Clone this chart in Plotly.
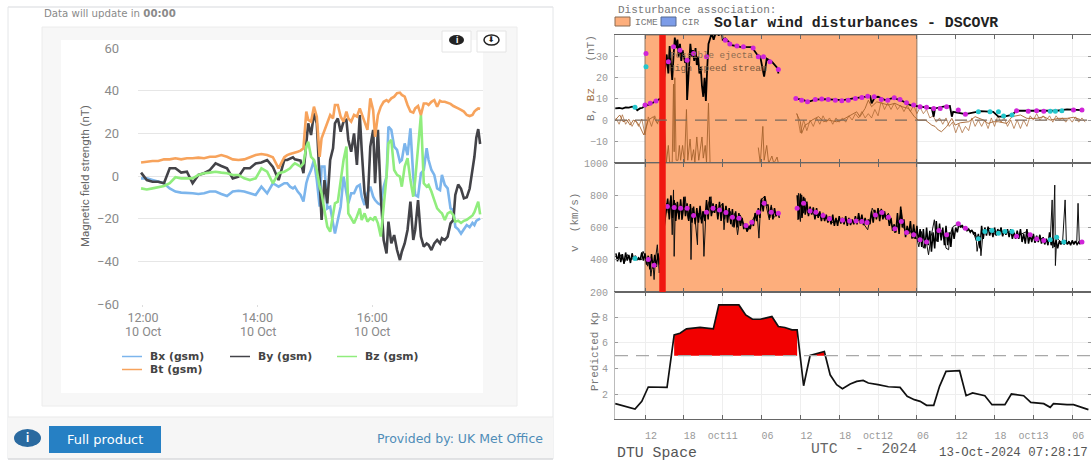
import plotly.graph_objects as go

W, H = 1091, 462

# ---------- left chart: magnetic field, minutes after 12:00 on 10 Oct ----------
minutes = [-2,4,10,16,22,28,34,40,46,52,58,64,70,76,82,88,94,100,106,112,118,124,130,136,142,148,
           151,154,157,159,162,165,168,171,173,176,179,182,185,187,190,193,
           196,199,201,204,207,210,213,215,218,221,224,227,229,232,235,238,
           241,243,246,249,252,255,257,260,263,266,269,271,274,277,280,283,
           285,288,291,294,297,299,302,305,308,311,313,316,319,322,325,327,
           330,333,336,339,342,345,347,349,351,353]
bx_gsm = [-1.1,-1.1,-1.9,-2.7,-3.4,-5.8,-7.3,-7.8,-7.8,-8.1,-8.4,-8.1,-7.3,-7.3,-8.4,-9.4,-7.3,-6.9,-7.3,-8.1,-8.9,-5,-8.1,-3.4,-5,-3.4,
          -3.4,-5,-5.8,-5,-7.3,-8.9,-12,-3.4,-0.3,2.8,7.5,-1.9,-14.4,4.4,4.4,-15.2,-14.4,-22.2,-26.9,-20.6,-14.4,-0.3,-8.1,-12.8,-8.1,-8.1,-5,-4.2,-9.7,-13.6,-8.1,-5,-9.7,-11.3,-12.8,-13.6,-5,-0.3,23.1,21.6,13.8,12.2,6.7,7.5,15.3,9.8,22.3,-0.3,-8.9,-9.7,1.3,2.8,13,7.5,2.8,0.5,-5.8,-6.6,0.5,-4.2,-5.8,-15.2,-16,-23.8,
          -25,-27,-25,-23,-24,-22,-23,-21,-20.5,-20]
by_gsm = [1.6,-1.9,-2.7,-2.7,-3.4,3.6,3.6,1.6,2,-3.4,0.5,1.3,2.8,5.9,4.7,3.6,-1.1,-0.3,3.6,3.6,5.9,6.3,7.5,4.3,-1.9,7.5,
          7.5,8.3,8.8,7.8,7.5,7.2,1.3,13.8,24.7,19.2,29.4,24.7,-6.6,-20.6,-1.9,-12.8,7.5,13,24.7,27,20.8,25.5,26.3,16.9,11.4,20,5.2,28.6,12.2,-8.1,-15.2,13.8,21.6,-3.4,21.6,-9.7,-30,-36.3,-21.4,-31.6,-27.7,-34.7,-39.4,-35.5,-31.6,-25.3,-12,-30,-25.3,-11.3,-28.4,-33.1,-31.6,-32.3,-34.7,-31.6,-30,-31.6,-29.2,-30,-28.4,-22.2,-20.6,-8.9,
          -4,-6,-10.5,-10,-6,2,9,18,22,15]
bz_gsm = [-5.8,-6.3,-5.8,-5.3,-4.7,-3.4,-0.6,-1.1,-1.1,-1.1,0.5,1.3,1.6,2,1.6,1.3,0.5,0.5,-1.1,-1.9,-1.1,3.6,2,-3.4,1.3,2,
          2.8,3.6,5.2,5.9,5.2,4.4,5.9,13.8,16.1,9,7.5,2.8,-5,-8.1,-16,-23.8,-26.1,-19,-12.8,-12,-1.9,7.5,13.8,-17.5,-19.8,-22.2,-19,-15.2,-20.6,-17.5,-21.4,-19.8,-20.6,-19,-22.2,-28.4,-14.4,-0.3,15.3,16.9,2.8,0.5,-0.3,-5,4.4,8.3,-1.9,-9.7,-1.9,13.8,28.6,-3.4,-5,-4.2,-7.3,-11.3,-15.2,-16.7,-17.5,-20.6,-17.5,-16.7,-18.3,-21.4,
          -21,-22,-21,-20.5,-19.5,-18.5,-17,-14,-12,-18]
bt_gsm = [6.3,6.7,7,7,7.8,7.8,8.3,7.8,8.3,8.3,8.6,8.3,9,9,9.8,9,7.8,7.5,7.8,8.8,9.8,10.3,9.8,8.8,3.6,8.8,
          9.8,10.3,10.6,10.9,11.4,11.9,13,30.2,26.3,25.5,32.5,27.8,9,17.7,21.6,24.7,28.6,27,33.3,33.3,27.8,25.5,30.2,27,25.5,28.6,27.8,31.7,29.4,25.5,21.6,36.4,30.9,18.4,28.6,32.5,34.8,35.6,34.8,36.4,37.2,38.8,39.1,38,37.2,33.3,30.2,29.7,31.7,32.8,28.6,34,34,33.3,34.8,35.6,32.5,35.3,34.8,34.8,34.4,33.8,32.8,32.5,
          31.7,31,30.2,28.6,28.1,28.6,30.2,31,31.7,31.5]
mag_names = ["Bx (gsm)", "By (gsm)", "Bz (gsm)", "Bt (gsm)"]
mag_colors = ["#7cb5ec", "#434348", "#90ed7d", "#f7a35c"]
mag_ticks = [60, 40, 20, 0, -20, -40, -60]
time_ticks = [0, 120, 240]
time_labels = ["12:00", "14:00", "16:00"]
date_labels = ["10 Oct", "10 Oct", "10 Oct"]

# ---------- right chart: hours after 00:00 on 10 Oct ----------
b_hours = [7.4,8,8.5,9,9.5,10,10.5,10.8,11.2,11.6,12,12.5,13,13.4,13.8,14.2,14.6,
           15.35,15.6,15.8,16,16.2,16.4,16.6,16.8,17,17.2,17.4,17.6,17.8,18,18.2,18.4,18.5,18.7,18.9,19,19.2,19.4,19.6,19.8,20,20.2,20.4,20.6,20.8,21,21.2,21.4,21.6,21.8,22,22.3,22.6,23,23.4,23.8,24,24.4,25.4,26.7,28.5,29.3,29.8,30.4,30.8,31.6,32.5,32.6,
           33.5,
           35.2,36.5,37.2,38.3,39.6,41.1,42.6,44.2,45.7,46.8,47,47.5,48,49.1,50.4,51.7,53,54,55,56.3,56.6,56.8,58.1,59.1,59.4,59.6,61.5,63.8,65.8,66.6,67.4,68.7,69.4,71.5,73.6,75.6,77.2,79.5]
b_total = [5.5,5.7,5.4,6,5.9,6.3,5.8,4.6,5.5,5.8,7,7.2,7.8,8.5,9,10,10.5,
           31,22,35,26,19,30,39,34,38,30,36,28,33,30,27,29,9.5,20,30,36,30,33,28,34,26,30,22,25,16,11,20,9,24,36,38,41,38,42,40,43,38,38.6,35.4,34.6,34.5,31,30,20.5,29,27.6,24.4,22,
           None,
           10.2,9.4,8.6,9.7,9.9,9.7,9.4,10.2,11,11.3,7.9,10.7,11,9.4,10.5,9.1,7,6.6,6,5.5,1.6,5.5,6.3,6.6,1.6,3.9,2.8,4.2,3.9,1.6,1.6,2.4,4.4,4.4,4.2,4.4,5,4.7]
bz_hours = [7.4,8.1,8.6,9.2,9.7,10.2,10.7,11.2,11.8,12.5,13.3,13.9,14.5,15,
            15.3,15.6,15.8,16.2,16.4,16.5,16.6,16.8,17.1,17.3,17.5,17.8,18.1,18.4,18.6,18.96,19.2,19.5,19.7,20,20.3,20.8,21,21.3,21.5,21.8,22.05,
            23,
            29.5,29.8,30.2,30.4,30.8,31.1,31.6,31.9,32.4,32.6,
            33.5,
            35.4,36,36.2,36.7,37.2,37.8,38.8,39.6,40.3,41.6,42.6,43.7,44.7,45.2,46,46.5,47,47.8,48.6,49.6,50.6,51.7,52.7,53.6,54.2,55.3,56.3,56.8,57.3,57.8,58.6,59.4,59.9,60.7,62,63,64.3,65,65.8,66.6,67.9,68.7,70,71,72.5,73.6,74.6,75.9,77.2,78.2,79.2]
bz_total = [0,2.4,-0.8,0,-2.4,0,-0.8,-3.1,-7,0,1.6,-1.6,2,-3,
            -20,-12,-20,-20,17,-15,20,-19,-19,-12,-19,-12,-20,5,-19,-9,-19,-14,-20,-8,-19,-8,-18,-12,-20,8,-20.5,
            None,
            -13,-20.5,-3,-19,-12,-20.5,-17,-20.5,-17.5,-20.5,
            None,
            3.1,-0.8,-6.3,-2.4,-1.6,0,1.6,-0.8,0,-0.8,0.3,2.4,3.9,1.6,5.5,9.4,6.3,8.6,7.9,7.1,7.9,6.3,5.5,1.6,0,0,-2.4,-3,-4.7,-5.5,-3.1,0.8,-2.4,-1.3,-0.8,1.6,0,-1.6,-0.8,-0.8,-1.6,1.6,2.4,0.8,0.8,1.6,0,0.8,0.8,1.3,0.3]
# upper and lower edge of the fuzzy Bz trace, read every hour
bz_band_hours = [7.5,8.5,9.5,10.5,11.5,12.5,13.5,
                 14.5,
                 35.5,36.5,37.5,38.5,39.5,40.5,41.5,42.5,43.5,44.5,45.5,46.5,47.5,48.5,49.5,50.5,51.5,52.5,53.5,54.5,55.5,56.5,57.5,58.5,59.5,60.5,61.5,62.5,63.5,64.5,65.5,66.5,67.5,68.5,69.5,70.5,71.5,72.5,73.5,74.5,75.5,76.5,77.5,78.5,79.5]
bz_band_upper = [1,2.5,0.5,0,0.5,1.5,2,
                 None,
                 3,0,0,1,2,1,1,1,2,3,4,3,5,9,8,8,7,7,7,6,5,2,1,1,-1,-2,-3,1,0,0,1,2,1,0,0,0,2,3,2,2,2,1,1,1.5,1]
bz_band_lower = [-2,-2,-3,-3,-7,-3,-2,
                 None,
                 -6,-5,-3,-2,-1,-2,-1,-1,0,1,1,1,2,5,5,5,4,4,3,3,1,-1,-2,-3,-6,-6,-5,-3,-3,-4,-3,-1,-3,-4,-4,-3,0,0,0,-1,0,-1,-1,-1,-1]
b_ejecta_h = [12.15,12,12.8,13.7,15.6,16.4,17.4,18.5,19.5,21.5,24.4,25.1,26.2,27.2,28.7,29.5,30.3,31.3,32.6,35.3,36.2,37.1,38.3,39.3,40.3,41.4,42.4,43.4,44.5,45.5,46.4,47.4,48.5,49.5,50.5,51.4,52.4,53.5,54.5,55.5,56.6,57.6,58.6,60.4,61.5,69.4,71.2,72.5,73.6,78.2,79.5]
b_ejecta_v = [31.4,7.1,7.9,9,27.5,34.6,33,28.3,31.4,29.9,37.7,36,35,34.6,34,29.9,29.9,27.5,23.9,10.2,9.4,8.6,9.7,9.9,9.7,9.4,9.1,9.4,10.2,10.7,11.3,11,9.7,9.4,10.5,9.7,8.2,7.1,6.3,6,5.5,5.5,6.3,4.7,2.8,4.4,4.2,4.4,4.2,4.7,4.7]
b_stream_h = [12.15,10.45,63.5,65.3,66.6,67.4,68.7,74.6,75.4,76.4]
b_stream_v = [25.2,6,3.9,3.9,3.9,1.9,2.4,4.2,4.2,4.4]

v_hours = [7.4,7.9,8.3,8.8,9.3,9.8,10.3,10.9,11.5,11.7,12.1,12.4,12.7,12.9,13.2,13.4,13.6,13.9,14.2,
           15.35,15.6,16,16.2,16.4,16.5,16.7,17.1,17.5,17.7,18.2,18.4,18.7,19,19.1,19.3,19.7,20.1,20.2,20.7,20.9,21.1,21.4,21.8,22.2,22.4,22.8,23.4,24,24.2,24.5,24.9,25.2,25.5,25.9,26.3,26.7,27.2,27.8,28.5,29.3,29.6,29.9,30.4,30.8,31.2,31.5,31.8,32.6,
           34,
           35.6,35.7,36,36.2,36.5,36.7,37.1,37.8,38.3,38.9,39.6,40.3,41.1,41.4,42.1,43.2,44.2,45.2,45.7,46.4,46.8,47.1,47.6,48.1,48.6,49.1,49.6,50.1,50.6,51.2,51.6,51.9,52.4,52.9,53.5,54,54.3,54.7,55,55.4,55.8,56.2,56.7,57,57.3,57.7,58.2,58.5,58.9,59.1,59.6,60.4,61.2,61.9,62.7,63.2,63.3,63.7,63.9,64.2,64.8,65.3,66.1,66.9,67.6,68.4,69.2,69.9,71,71.5,72.3,73,73.8,74.6,74.9,75,75.3,75.4,75.6,76.1,76.5,76.9,77,77.1,77.9,78.7,78.9,79.1,79.5]
v_speed = [421,401,432,380,432,401,411,401,401,452,411,360,411,298,390,277,401,493,318,
           750,689,791,555,833,421,750,689,730,647,791,709,647,689,401,720,668,493,689,647,699,421,689,750,791,689,709,720,750,586,730,668,699,606,689,555,678,627,575,637,699,534,770,791,719,647,740,658,689,
           None,
           647,812,637,802,689,781,689,699,668,689,657,657,627,637,645,645,635,647,627,586,658,720,678,699,709,658,689,617,566,627,709,607,555,586,534,534,480,575,472,524,431,545,648,514,575,586,555,472,462,555,606,623,596,586,575,514,452,545,425,560,586,596,555,586,565,575,545,555,575,555,524,534,524,514,771,472,863,364,534,514,503,771,647,503,503,514,750,503,514]
# upper and lower edge of the dense speed trace, read every half hour
band_hours = [7.5,8,8.5,9,9.5,10,10.5,11,11.5,12,12.5,13,13.5,14,
              15.5,16,16.5,17,17.5,18,18.5,19,19.5,20,20.5,21,21.5,22,22.5,23,23.5,24,24.5,25,25.5,26,26.5,27,27.5,28,28.5,29,29.5,30,30.5,31,31.5,32,32.5,
              33.5,
              35.5,36,36.5,37,37.5,38,38.5,39,39.5,40,40.5,41,41.5,42,42.5,43,43.5,44,44.5,45,45.5,46,46.5,47,47.5,48,48.5,49,49.5,50,50.5,51,51.5,52,52.5,53,53.5,54,54.5,55,55.5,56,56.5,57,57.5,58,58.5,59,59.5,60,60.5,61,61.5,62,62.5,63,63.5,64,64.5,65,65.5,66,66.5,67,67.5,68,68.5,69,69.5,70,70.5,71,71.5,72,72.5,73,73.5,74,74.5,75,75.5,76,76.5,77,77.5,78,78.5,79]
band_upper = [440,445,435,445,430,440,425,412,445,440,425,435,430,440,
              780,800,770,760,775,790,750,745,730,720,735,700,770,790,750,745,760,750,735,720,715,700,690,660,625,610,640,690,720,780,795,740,730,720,700,
              None,
              800,810,790,760,730,725,720,700,690,680,670,680,660,670,660,670,660,650,670,690,680,660,650,700,710,720,715,700,680,660,620,690,730,650,610,640,620,610,590,590,600,580,570,640,625,600,610,570,600,600,625,615,605,590,585,570,560,610,600,605,590,600,590,600,585,590,590,570,580,590,560,590,555,560,550,555,540,530,570,535,520,515,515,520,515,520,515,510]
band_lower = [390,385,375,395,380,400,398,400,395,370,340,345,355,370,
              650,660,640,650,655,670,640,630,620,630,625,640,650,670,690,650,640,650,630,620,600,600,610,590,575,590,610,640,660,700,740,660,650,670,660,
              None,
              650,660,680,670,680,650,660,640,640,630,620,610,610,625,620,610,615,620,620,625,615,620,620,630,650,640,650,650,610,580,570,560,600,540,560,530,530,510,480,470,490,450,470,510,520,490,490,480,530,570,600,590,580,570,560,520,470,530,550,550,540,550,560,545,555,540,530,530,530,510,500,500,510,505,510,500,495,490,490,480,470,495,495,495,490,495,495,495]
v_ejecta_h = [12.5,13.4,15.45,16.5,17.5,18.5,19.5,21.5,22.5,23.5,24.5,25.5,26.5,27.6,28.5,29.5,30.4,31.5,32.6,35.5,36.5,37.5,38.4,39.5,40.5,42.5,43.6,44.6,45.5,46.3,47.6,48.6,49.6,50.6,51.6,52.4,53.5,54.5,55.5,57.4,58.6,60.4,61.5,69.4,71.5,72.5,73.6,79.5]
v_ejecta_v = [401,366,730,724,720,720,674,695,720,709,693,664,658,613,633,695,750,695,689,720,750,703,695,674,654,645,641,641,637,631,678,693,664,592,637,569,555,524,510,582,555,623,596,545,555,528,520,510]
v_stream_h = [10.45,63.5,64.5,65.6,66.6,67.6,68.7,74.6,75.6,76.7]
v_stream_v = [407,530,575,582,565,575,575,524,540,510]

kp_hours = [7.4,10.45,11.5,12.5,15.4,16.5,17.4,18.4,20.5,22.55,23.4,26.5,27.55,28.6,29.8,31.6,32.6,33.6,34.7,35.5,36.5,37.5,39.7,40.6,41.6,42.5,43.7,44.7,45.7,46.5,48,49.6,51.4,52.5,53.6,54.5,55.5,56.6,57.5,58.5,60.6,61.6,62.6,64.5,65.6,67.6,68.6,70.5,71.6,73.6,74.6,75.1,77.2,78.2,80.5]
kp_value = [1.25,0.83,1.43,2.55,2.52,6.62,6.75,7.09,7.2,7.09,8.96,8.96,8.18,7.84,7.84,8.05,7.27,7.2,7.01,7.01,2.65,5.01,5.32,3.5,2.73,2.42,2.78,2.99,3.06,2.86,2.73,2.57,2.52,1.82,1.56,1.43,1.12,1.12,2.6,3.77,3.82,1.87,2.08,1.87,1.17,1.17,2,1.87,1.35,1.25,0.96,1.25,1.17,1.17,0.78]
storm_level = 5

hour_ticks = [12,18,24,30,36,42,48,54,60,66,72,78]
hour_labels = ["\u00a0\u00a012","\u00a0\u00a018","oct11","\u00a0\u00a006","\u00a0\u00a012","\u00a0\u00a018","oct12","\u00a0\u00a006","\u00a0\u00a012","\u00a0\u00a018","oct13","\u00a0\u00a006"]
b_ticks = [-10,0,10,20,30]
b_range = [-20.3, 40.2]
v_ticks = [200,400,600,800,1000]
v_range = [200, 1000]
kp_ticks = [2,4,6,8]
kp_range = [0.05, 9.97]
icme_span = [12, 54]
shock_span = [14.2, 15.2]

for a, b in [(minutes, bx_gsm), (minutes, by_gsm), (minutes, bz_gsm), (minutes, bt_gsm), (b_hours, b_total),
             (bz_hours, bz_total), (bz_band_hours, bz_band_upper), (bz_band_hours, bz_band_lower),
             (b_ejecta_h, b_ejecta_v), (b_stream_h, b_stream_v), (v_hours, v_speed),
             (band_hours, band_upper), (band_hours, band_lower),
             (v_ejecta_h, v_ejecta_v), (v_stream_h, v_stream_v), (kp_hours, kp_value)]:
    assert len(a) == len(b), (len(a), len(b))

# ---------- helpers for page furniture ----------
SANS, WIDE, MONO = "Roboto", "DejaVu Sans", "Liberation Mono"
def px(x): return x / W
def py(y): return 1 - y / H

shapes, notes = [], []
def box(x0, y0, x1, y1, fill, line=None, kind="rect", layer="below", width=1):
    shapes.append(dict(type=kind, xref="paper", yref="paper", x0=px(x0), x1=px(x1), y0=py(y0), y1=py(y1),
                       fillcolor=fill, line=dict(color=line or "rgba(0,0,0,0)", width=width), layer=layer))
def rule(x0, y0, x1, y1, color, width=1):
    shapes.append(dict(type="line", xref="paper", yref="paper", x0=px(x0), x1=px(x1), y0=py(y0), y1=py(y1),
                       line=dict(color=color, width=width), layer="below"))
def note(text, x, y, size, color, family=SANS, anchor="left", angle=0):
    notes.append(dict(text=text, xref="paper", yref="paper", x=px(x), y=py(y), xanchor=anchor, yanchor="middle",
                      showarrow=False, textangle=angle, font=dict(size=size, color=color, family=family)))

# left card
rule(8, 7, 553, 7, "#e4e6e8", 1.5)
rule(8, 7, 8, 459, "#e4e6e8", 1)
rule(553, 7, 553, 459, "#e4e6e8", 1)
box(42, 27, 517, 406, "#f7f7f7", "#ececec")
box(61, 40, 483, 393, "#ffffff")
box(8, 417, 553, 459, "#f6f6f6")
rule(8, 417, 553, 417, "#e9e9e9", 1)
rule(8, 459, 553, 459, "#d8dadc", 1.5)
box(442, 31, 471, 52, "#ffffff", "#e4e4e4", layer="above")
box(477, 31, 506, 52, "#ffffff", "#e4e4e4", layer="above")
box(449, 35, 464, 45, "#222222", kind="circle", layer="above")
box(484, 35, 499, 45, "#ffffff", "#222222", kind="circle", layer="above", width=1.5)
box(14, 429, 41, 447, "#2a6aa0", kind="circle")
box(49, 426, 161, 453, "#2680c4")
note("<b>i</b>", 456.5, 40, 9, "#ffffff", anchor="center")
note("<b>⬇</b>", 491.5, 40, 8, "#222222", WIDE, "center")
note("<b>i</b>", 27.5, 438, 12, "#ffffff", anchor="center")
note("Full product", 105, 439, 13, "#ffffff", WIDE, "center")
note("Provided by: UK Met Office", 545, 438, 12.5, "#4f8db8", WIDE, "right")
note("Data will update in <b>00:00</b>", 42, 14, 10.2, "#8a8a8a", WIDE)
note("Magnetic field strength (nT)", 85, 176, 11.5, "#666666", anchor="center", angle=-90)
for tick, label in zip(time_ticks, date_labels):
    notes.append(dict(text=label, xref="x", yref="paper", x=tick, y=py(331), xanchor="center", yanchor="middle",
                      showarrow=False, font=dict(size=12.5, color="#8a8a8a", family=SANS)))

legend_rows = [(122, 356.5), (230, 356.5), (337, 356.5), (122, 369.5)]
for name, colour, (lx, ly) in zip(mag_names, mag_colors, legend_rows):
    rule(lx, ly, lx + 20, ly, colour, 1.5)
    note("<b>%s</b>" % name, lx + 26, ly, 10.8, "#444444", WIDE)

# right header and footer text
note("Disturbance association:", 615.5, 10, 11, "#777777", MONO)
box(615, 17, 630, 26, "#fdae7c", "#8a6a50")
note("ICME", 633, 22, 9.5, "#777777", MONO)
box(661, 17, 676, 26, "#7c9ce8", "#55688f")
note("CIR", 680, 22, 9.5, "#777777", MONO)
note("<b>Solar wind disturbances - DSCOVR</b>", 711.5, 23, 14.8, "#222222", MONO)
note('B, <span style="color:#a0703f">Bz</span>\u00a0\u00a0\u00a0\u00a0(nT)', 591, 78, 11, "#777777", MONO, "center", -90)
note("v\u00a0\u00a0(km/s)", 575, 223, 11, "#777777", MONO, "center", -90)
note("Predicted Kp", 595, 352, 11, "#777777", MONO, "center", -90)
note("DTU Space", 615, 453, 14.8, "#555555", MONO)
note("UTC\u00a0\u00a0-\u00a0\u00a02024", 809, 449, 14.7, "#666666", MONO)
note("13-Oct-2024 07:28:17", 1090, 453, 12.4, "#555555", MONO, "right")
note("Possible ejecta", 668, 55, 9.2, "#8a6a50", MONO)
note("High speed stream", 667, 68, 9.6, "#7a5a40", MONO)

# axis-anchored bands and reference lines
for xax, yax, yr in (("x2", "y2", b_range), ("x3", "y3", v_range)):
    shapes.append(dict(type="rect", xref=xax, yref=yax, x0=icme_span[0], x1=icme_span[1], y0=yr[0], y1=yr[1],
                       fillcolor="#fdae7c", line=dict(color="#8f7560", width=1), layer="between"))
    shapes.append(dict(type="rect", xref=xax, yref=yax, x0=shock_span[0], x1=shock_span[1], y0=yr[0], y1=yr[1],
                       fillcolor="#f01810", line=dict(width=0), layer="above"))
shapes.append(dict(type="line", xref="x2 domain", yref="y2", x0=0, x1=1, y0=0, y1=0, layer="above",
                   line=dict(color="#7b6a5c", width=1.2, dash="12px,8px")))
shapes.append(dict(type="line", xref="x4 domain", yref="y4", x0=0, x1=1, y0=storm_level, y1=storm_level, layer="above",
                   line=dict(color="#a8a8a8", width=1.4, dash="13px,8px")))

# ---------- figure ----------
def zigzag(hours, upper, lower, step):
    xs, ys = [], []
    for hour, hi, lo in zip(hours, upper, lower):
        xs += [hour, hour + step]
        ys += [hi, lo]
    return xs, ys

fig = go.Figure()
for name, colour, series in zip(mag_names, mag_colors, [bx_gsm, by_gsm, bz_gsm, bt_gsm]):
    fig.add_trace(go.Scatter(x=minutes, y=series, name=name, mode="lines", xaxis="x", yaxis="y",
                             line=dict(color=colour, width=2.6)))

fig.add_trace(go.Scatter(x=bz_hours, y=bz_total, name="Bz", mode="lines", xaxis="x2", yaxis="y2",
                         line=dict(color="#a5622c", width=0.9)))
bz_x, bz_y = zigzag(bz_band_hours, bz_band_upper, bz_band_lower, 0.5)
fig.add_trace(go.Scatter(x=bz_x, y=bz_y, name="Bz band", mode="lines", xaxis="x2", yaxis="y2",
                         line=dict(color="#a5622c", width=0.7)))
fig.add_trace(go.Scatter(x=b_hours, y=b_total, name="B", mode="lines", xaxis="x2", yaxis="y2",
                         line=dict(color="#000000", width=1.8)))
fig.add_trace(go.Scatter(x=v_hours, y=v_speed, name="v", mode="lines", xaxis="x3", yaxis="y3",
                         line=dict(color="#111111", width=1)))
zig_x, zig_y = zigzag(band_hours, band_upper, band_lower, 0.25)
fig.add_trace(go.Scatter(x=zig_x, y=zig_y, name="v band", mode="lines", xaxis="x3", yaxis="y3",
                         connectgaps=False, line=dict(color="#000000", width=1.5)))
for hx, hy, ax, ay in [(b_ejecta_h, b_ejecta_v, "x2", "y2"), (v_ejecta_h, v_ejecta_v, "x3", "y3")]:
    fig.add_trace(go.Scatter(x=hx, y=hy, mode="markers", xaxis=ax, yaxis=ay, name="ejecta",
                             marker=dict(color="#d024d8", size=5)))
for hx, hy, ax, ay in [(b_stream_h, b_stream_v, "x2", "y2"), (v_stream_h, v_stream_v, "x3", "y3")]:
    fig.add_trace(go.Scatter(x=hx, y=hy, mode="markers", xaxis=ax, yaxis=ay, name="stream",
                             marker=dict(color="#25c6cc", size=5)))

# red fill wherever predicted Kp is at or above the storm level
run_x, run_y = [], []
for hour, kp in list(zip(kp_hours, kp_value)) + [(None, 0)]:
    if kp >= storm_level:
        run_x.append(hour); run_y.append(kp)
    elif run_x:
        fig.add_trace(go.Scatter(x=run_x + run_x[::-1], y=run_y + [storm_level] * len(run_x), mode="lines",
                                 fill="toself", fillcolor="#f20000", line=dict(width=0), xaxis="x4", yaxis="y4"))
        run_x, run_y = [], []
fig.add_trace(go.Scatter(x=kp_hours, y=kp_value, name="Kp", mode="lines", xaxis="x4", yaxis="y4",
                         line=dict(color="#111111", width=1.7)))

mono10 = dict(family=MONO, size=10, color="#999999")
def hour_axis(top, bottom, labelled):
    return dict(domain=[px(615), px(1091)], anchor={163: "y2", 292: "y3", 419: "y4"}[bottom], range=[7.36, 80.9],
                tickmode="array", tickvals=hour_ticks, ticktext=hour_labels if labelled else [""] * len(hour_ticks),
                ticks="inside", ticklen=4, tickcolor="#666666", mirror="ticks", showline=True, linecolor="#666666",
                showgrid=True, gridcolor="#eeeeee", zeroline=False, tickfont=mono10, ticklabelstandoff=7)
def value_axis(top, bottom, axis_range, ticks, x_anchor):
    return dict(domain=[py(bottom), py(top)], anchor=x_anchor, range=axis_range, tickmode="array", tickvals=ticks,
                ticks="inside", ticklen=3, tickcolor="#999999", mirror="ticks", showline=True, linecolor="#bbbbbb",
                showgrid=True, gridcolor="#eeeeee", zeroline=False, tickfont=mono10, ticklabelstandoff=4)

fig.update_layout(
    width=W, height=H, margin=dict(l=0, r=0, t=0, b=0, pad=0, autoexpand=False), autosize=False, showlegend=False,
    paper_bgcolor="#ffffff", plot_bgcolor="rgba(0,0,0,0)", shapes=shapes, annotations=notes,
    xaxis=dict(domain=[px(138), px(483)], anchor="y", range=[-5.2, 356], tickmode="array", tickvals=time_ticks,
               ticktext=time_labels, ticks="outside", ticklen=2, tickcolor="#dddddd", showgrid=False, zeroline=False,
               showline=False, tickfont=dict(family=SANS, size=12.5, color="#8a8a8a")),
    yaxis=dict(domain=[py(304), py(48)], anchor="x", range=[-60, 60], tickmode="array", tickvals=mag_ticks,
               ticks="", showgrid=True, gridcolor="#e6e6e6", gridwidth=1.3, zeroline=False, showline=False,
               tickfont=dict(family=SANS, size=13, color="#8a8a8a"), ticklabelstandoff=18),
    xaxis2=hour_axis(35, 163, False), yaxis2=value_axis(35, 163, b_range, b_ticks, "x2"),
    xaxis3=hour_axis(163, 292, False), yaxis3=value_axis(163, 292, v_range, v_ticks, "x3"),
    xaxis4=hour_axis(292, 419, True), yaxis4=value_axis(292, 419, kp_range, kp_ticks, "x4"),
)
fig.write_html("out.html", config={"displayModeBar": False},
               post_script="document.body.style.margin='0';document.body.style.overflow='hidden';")
